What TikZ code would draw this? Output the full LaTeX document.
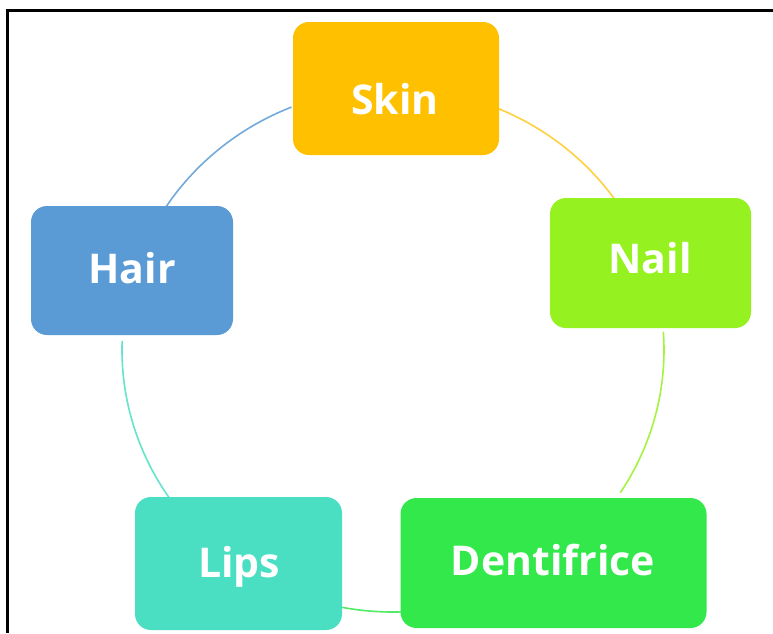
\documentclass[tikz,border=0pt]{standalone}
\usepackage{fontspec}
\setmainfont{Open Sans}
\definecolor{skinc}{HTML}{FFC000}
\definecolor{nailc}{HTML}{95F11F}
\definecolor{dentc}{HTML}{32E84A}
\definecolor{lipsc}{HTML}{4ADFC2}
\definecolor{hairc}{HTML}{5B9BD5}
\tikzset{
  boxnode/.style={rounded corners=16pt, draw=none, inner sep=0pt},
  lbl/.style={anchor=base, text=white, inner sep=0pt, font=\fontsize{41}{41}\selectfont\bfseries},
  ring/.style={line width=1.6pt},
}
\begin{document}
\begin{tikzpicture}[x=1pt,y=-1pt]
\useasboundingbox (0,0) rectangle (773,633);
\fill[white] (0,0) rectangle (773,633);
% frame
\draw[line width=2.6pt] (7.4,633) -- (7.4,10.3) -- (773,10.3);
% center of ring
\coordinate (o) at (393,350);
% ring arcs
\draw[ring, hairc!85] ([shift={(148:271pt and 262pt)}]o) arc[start angle=148, end angle=112, x radius=271pt, y radius=262pt];
\draw[ring, skinc!75] ([shift={(67:271pt and 262pt)}]o) arc[start angle=67, end angle=35, x radius=271pt, y radius=262pt];
\draw[ring, nailc!85] ([shift={(4:271pt and 262pt)}]o) arc[start angle=4, end angle=-33, x radius=271pt, y radius=262pt];
\draw[ring, dentc!85] ([shift={(-88:271pt and 262pt)}]o) arc[start angle=-88, end angle=-101, x radius=271pt, y radius=262pt];
\draw[ring, lipsc!85] ([shift={(216:271pt and 262pt)}]o) arc[start angle=216, end angle=178, x radius=271pt, y radius=262pt];
% boxes
\node[boxnode, fill=skinc, minimum width=206pt, minimum height=133pt] (skin) at (396,88.5) {};
\node[boxnode, fill=nailc, minimum width=201pt, minimum height=130pt] (nail) at (650.5,263) {};
\node[boxnode, fill=dentc, minimum width=306pt, minimum height=130pt] (dent) at (553.5,563) {};
\node[boxnode, fill=lipsc, minimum width=207pt, minimum height=133pt] (lips) at (238.5,563.5) {};
\node[boxnode, fill=hairc, minimum width=202pt, minimum height=129pt] (hair) at (132,270.5) {};
% labels
\node[lbl] (skint) at (395,114) {Skin};
\node[lbl] (nailt) at (650,273) {Nail};
\node[lbl] (dentt) at (553,575) {Dentifrice};
\node[lbl] (hairt) at (132,283) {Hair};
\node[lbl] (lipst) at (239,577) {Lips};
\end{tikzpicture}
\end{document}
